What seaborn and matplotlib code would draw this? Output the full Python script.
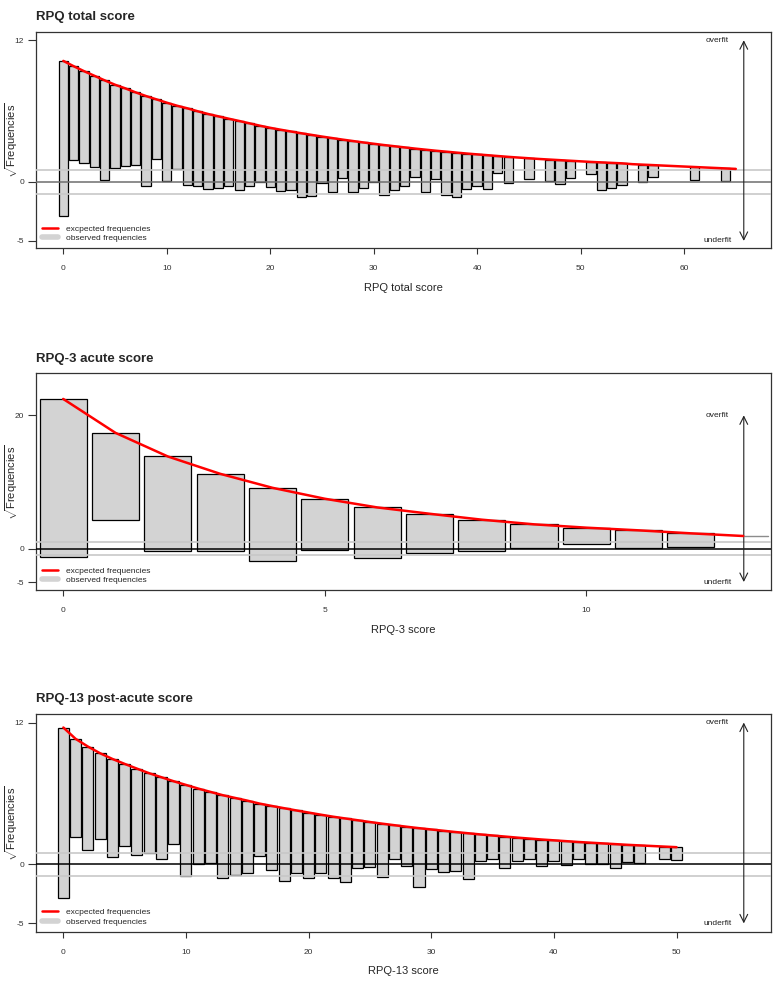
import numpy as np
import matplotlib
matplotlib.use("Agg")
import matplotlib.pyplot as plt
from matplotlib.lines import Line2D
import seaborn as sns

# hanging rootograms, values on the sqrt(frequency) scale
# expected = top of each bar / red curve, bottom = lower end of the hanging bar (nan = no bar)
total_expected = [10.25, 9.80, 9.38, 8.99, 8.60, 8.23, 7.92, 7.58, 7.27, 6.99,
                  6.71, 6.45, 6.23, 5.98, 5.75, 5.55, 5.35, 5.16, 4.96, 4.76,
                  4.58, 4.42, 4.27, 4.12, 3.98, 3.84, 3.71, 3.58, 3.46, 3.34,
                  3.23, 3.12, 3.02, 2.92, 2.82, 2.73, 2.64, 2.56, 2.48, 2.40,
                  2.33, 2.26, 2.19, 2.12, 2.06, 2.00, 1.94, 1.89, 1.84, 1.79,
                  1.74, 1.69, 1.65, 1.61, 1.57, 1.50, 1.46, 1.42, 1.38, 1.34,
                  1.30, 1.26, 1.22, 1.18, 1.14, 1.10]
total_bottom = [-2.87, 1.89, 1.63, 1.30, 0.14, 1.18, 1.38, 1.46, -0.34, 1.94,
                0.08, 1.13, -0.28, -0.39, -0.59, -0.51, -0.31, -0.70, -0.34, -0.03,
                -0.42, -0.80, -0.70, -1.29, -1.18, -0.11, -0.90, 0.31, -0.85, -0.48,
                0.00, -1.10, -0.68, -0.39, 0.39, -0.85, 0.23, -1.07, -1.24, -0.59,
                -0.34, -0.62, 0.79, -0.11, np.nan, 0.23, np.nan, 0.08, -0.20, 0.32,
                np.nan, 0.65, -0.65, -0.48, -0.24, np.nan, -0.03, 0.38, np.nan, np.nan,
                np.nan, 0.20, np.nan, np.nan, 0.06]

acute_expected = [22.46, 17.37, 13.83, 11.23, 9.13, 7.49, 6.19, 5.24, 4.35, 3.65,
                  3.15, 2.75, 2.30, 1.90]
acute_bottom = [-1.20, 4.35, -0.30, -0.30, -1.89, -0.25, -1.39, -0.60, -0.35, 0.05,
                0.65, 0.15, 0.20]

post_expected = [11.58, 10.62, 9.97, 9.40, 8.92, 8.50, 8.10, 7.71, 7.37, 7.03,
                 6.72, 6.41, 6.13, 5.85, 5.62, 5.39, 5.14, 4.94, 4.75, 4.56,
                 4.38, 4.20, 4.03, 3.88, 3.73, 3.58, 3.44, 3.31, 3.18, 3.06,
                 2.95, 2.84, 2.73, 2.63, 2.53, 2.44, 2.35, 2.26, 2.18, 2.10,
                 2.03, 1.96, 1.89, 1.83, 1.77, 1.71, 1.65, 1.60, 1.55, 1.50,
                 1.45]
post_bottom = [-2.83, 2.31, 1.19, 2.14, 0.59, 1.55, 0.81, 0.96, 0.47, 1.72,
               -0.96, 0.05, 0.14, -1.16, -0.88, -0.71, 0.68, -0.46, -1.41, -0.73,
               -1.14, -0.70, -1.20, -1.53, -0.34, -0.20, -1.08, 0.45, -0.14, -1.90,
               -0.40, -0.65, -0.58, -1.27, 0.28, 0.42, -0.32, 0.25, 0.42, -0.14,
               0.28, -0.06, 0.47, 0.05, 0.05, -0.34, 0.22, 0.14, np.nan, 0.45,
               0.39]

sns.set_style("white")
plt.rcParams['font.family'] = ['Liberation Sans', 'DejaVu Sans']
plt.rcParams['mathtext.fontset'] = 'custom'
plt.rcParams['mathtext.rm'] = 'Liberation Sans'
plt.rcParams['mathtext.it'] = 'Liberation Sans:italic'
plt.rcParams['axes.unicode_minus'] = False

fig = plt.figure(figsize=(7.79, 9.84), dpi=100)


def rootogram(rect, expected, bottom, title, xlabel, xlim, ylim, yticks, xticks,
              zero_color, stub=False):
    ax = fig.add_axes(rect)
    exp = np.array(expected)
    bot = np.array(bottom)
    x = np.arange(len(bot))
    keep = ~np.isnan(bot)
    ax.bar(x[keep], exp[:len(bot)][keep] - bot[keep], bottom=bot[keep], width=0.9,
           color='#D3D3D3', edgecolor='black', linewidth=0.9, zorder=2)
    sns.lineplot(x=np.arange(len(exp)), y=exp, color='red', linewidth=1.8,
                 ax=ax, zorder=5)
    if stub:
        ax.plot([len(exp) - 1, len(exp) - 0.53], [exp[-1], exp[-1]],
                color='#8c8c8c', linewidth=1, zorder=4)

    for h in (1, -1):
        ax.axhline(h, color='#C8C8C8', linewidth=1.2, zorder=3)
    ax.axhline(0, color=zero_color, linewidth=1.1, zorder=3)

    tr = ax.get_yaxis_transform()
    ax.annotate('', xy=(0.963, yticks[0]), xytext=(0.963, yticks[-1]), xycoords=tr,
                textcoords=tr,
                arrowprops=dict(arrowstyle='<->', lw=0.8, color='#222',
                                mutation_scale=14, shrinkA=0, shrinkB=0))
    ax.text(0.927, yticks[-1], 'overfit', transform=tr, ha='center', va='center',
            fontsize=6, color='#222')
    ax.text(0.927, yticks[0], 'underfit', transform=tr, ha='center', va='center',
            fontsize=6, color='#222')

    ax.set_xlim(*xlim)
    ax.set_ylim(*ylim)
    ax.set_yticks(yticks)
    ax.set_xticks(xticks)
    ax.tick_params(axis='y', direction='out', length=5.5, width=0.8, pad=3,
                   labelsize=6, colors='#333', left=True)
    ax.tick_params(axis='x', direction='out', length=4.5, width=0.8, pad=8,
                   labelsize=6, colors='#333', bottom=True)
    for s in ax.spines.values():
        s.set_color('#333')
        s.set_linewidth(0.9)

    ax.set_title(title, loc='left', fontweight='bold', fontsize=9.5, pad=8.5)
    ax.set_xlabel(xlabel, fontsize=8)
    ax.xaxis.set_label_coords(0.5, -0.16)
    ax.set_ylabel(r'$\sqrt{\mathrm{Frequencies}}$', fontsize=8)
    ax.yaxis.set_label_coords(-0.0215, 0.5)

    handles = [Line2D([], [], color='red', linewidth=1.8),
               Line2D([], [], color='#D3D3D3', linewidth=4, solid_capstyle='round')]
    ax.legend(handles, ['excpected frequencies', 'observed frequencies'],
              loc='lower left', frameon=False, fontsize=6, handlelength=2.0,
              labelspacing=0.2, borderaxespad=0.3, handletextpad=0.9)
    return ax


rootogram([0.0462, 0.748, 0.9435, 0.2195], total_expected, total_bottom,
          'RPQ total score', 'RPQ total score', (-2.64, 68.4), (-5.6, 12.7),
          [-5, 0, 12], [0, 10, 20, 30, 40, 50, 60], '#6e6e6e')
rootogram([0.0462, 0.4004, 0.9435, 0.2202], acute_expected, acute_bottom,
          'RPQ-3 acute score', 'RPQ-3 score', (-0.52, 13.53), (-6.2, 26.3),
          [-5, 0, 20], [0, 5, 10], 'black', stub=True)
rootogram([0.0462, 0.0532, 0.9435, 0.2209], post_expected, post_bottom,
          'RPQ-13 post-acute score', 'RPQ-13 score', (-2.23, 57.7), (-5.7, 12.7),
          [-5, 0, 12], [0, 10, 20, 30, 40, 50], 'black')

fig.savefig('out.png', dpi=100)
